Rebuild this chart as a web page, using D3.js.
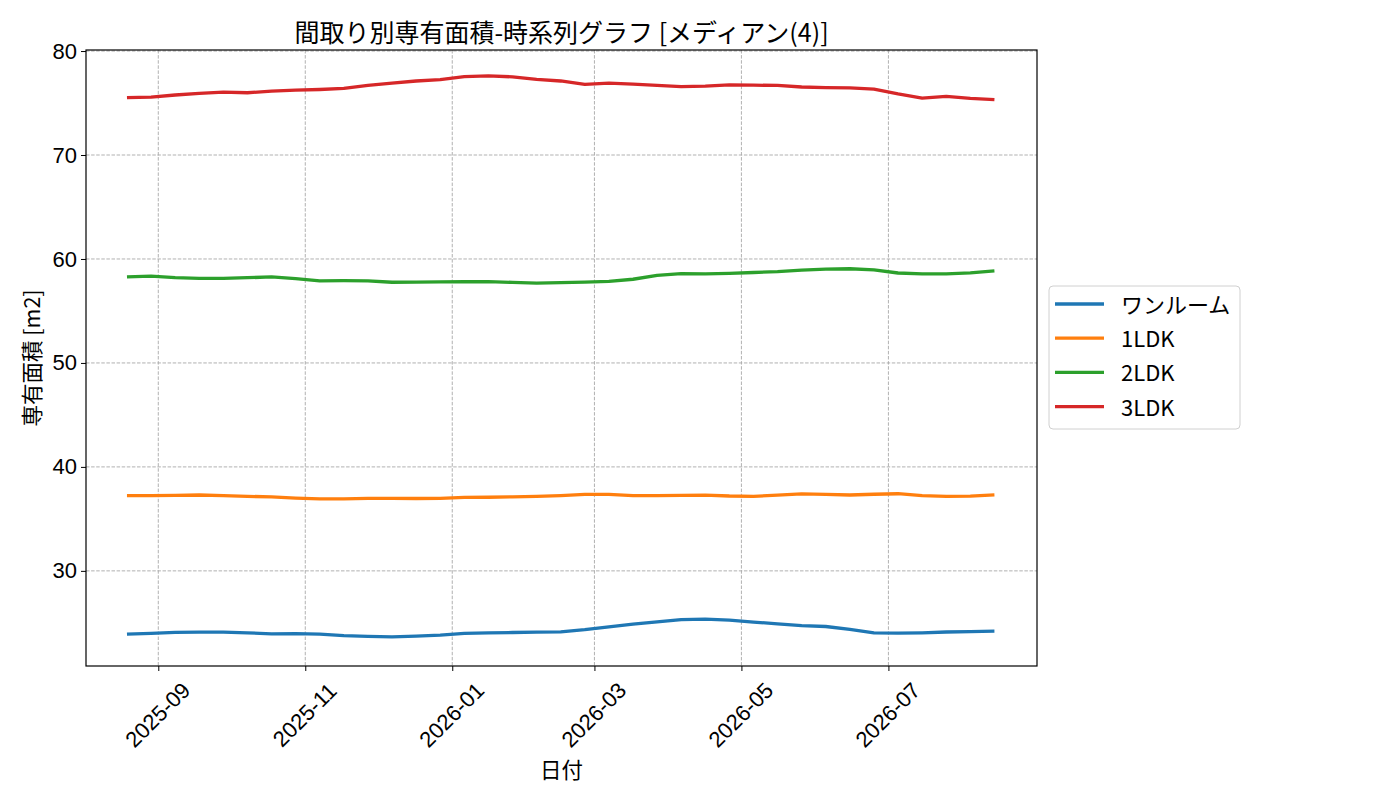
<!DOCTYPE html>
<html>
<head>
<meta charset="utf-8">
<title>間取り別専有面積-時系列グラフ</title>
<script src="https://cdn.jsdelivr.net/npm/d3@7/dist/d3.min.js"></script>
<style>
    body { margin: 0; background: #fff; }
    svg { font-family: "Noto Sans CJK JP", "Noto Sans", sans-serif; }
    .grid line { stroke: #a8a8a8; stroke-width: 0.9; stroke-dasharray: 3.5,1.6; }
    .axis text { font-size: 22px; fill: #000; }
    .axis path, .axis line { stroke: #000; }
</style>
</head>
<body>
<svg id="chart" width="1400" height="800"></svg>
<script>
// sample dates (every 10 days)
const dates = [
    "2025-08-19", "2025-08-29", "2025-09-08", "2025-09-18", "2025-09-28", "2025-10-08",
    "2025-10-18", "2025-10-28", "2025-11-07", "2025-11-17", "2025-11-27", "2025-12-07",
    "2025-12-17", "2025-12-27", "2026-01-06", "2026-01-16", "2026-01-26", "2026-02-05",
    "2026-02-15", "2026-02-25", "2026-03-07", "2026-03-17", "2026-03-27", "2026-04-06",
    "2026-04-16", "2026-04-26", "2026-05-06", "2026-05-16", "2026-05-26", "2026-06-05",
    "2026-06-15", "2026-06-25", "2026-07-05", "2026-07-15", "2026-07-25", "2026-08-04",
    "2026-08-14"
];

const seriesNames = ["ワンルーム", "1LDK", "2LDK", "3LDK"];

const oneRoom = [23.91, 23.99, 24.08, 24.11, 24.11, 24.04, 23.94, 23.96, 23.92, 23.77, 23.69, 23.65,
    23.72, 23.82, 23.99, 24.04, 24.07, 24.10, 24.14, 24.34, 24.62, 24.87, 25.09, 25.32,
    25.36, 25.27, 25.08, 24.90, 24.74, 24.65, 24.37, 24.04, 24.01, 24.04, 24.12, 24.16, 24.20];

const ldk1 = [37.24, 37.24, 37.27, 37.30, 37.24, 37.17, 37.11, 36.99, 36.92, 36.92, 36.98, 36.97,
    36.96, 36.97, 37.06, 37.08, 37.12, 37.17, 37.24, 37.36, 37.35, 37.24, 37.24, 37.27,
    37.29, 37.20, 37.17, 37.29, 37.41, 37.35, 37.30, 37.37, 37.42, 37.24, 37.17, 37.19, 37.31];

const ldk2 = [58.28, 58.35, 58.20, 58.13, 58.13, 58.20, 58.27, 58.10, 57.90, 57.91, 57.90, 57.76,
    57.77, 57.79, 57.81, 57.82, 57.75, 57.68, 57.73, 57.78, 57.85, 58.05, 58.42, 58.60,
    58.57, 58.62, 58.70, 58.78, 58.93, 59.03, 59.06, 58.95, 58.65, 58.57, 58.57, 58.67, 58.85];

const ldk3 = [75.51, 75.56, 75.77, 75.92, 76.04, 75.99, 76.14, 76.25, 76.30, 76.40, 76.69, 76.92,
    77.12, 77.25, 77.54, 77.61, 77.52, 77.28, 77.12, 76.80, 76.92, 76.82, 76.70, 76.57,
    76.62, 76.74, 76.72, 76.69, 76.54, 76.49, 76.46, 76.34, 75.87, 75.47, 75.64, 75.45, 75.32];

const yTicks = [30, 40, 50, 60, 70, 80];
const colors = ["#1f77b4", "#ff7f0e", "#2ca02c", "#d62728"];

const parse = d3.timeParse("%Y-%m-%d");
const allValues = [oneRoom, ldk1, ldk2, ldk3];
const series = seriesNames.map((name, i) => ({
    name: name,
    color: colors[i],
    values: allValues[i].map((v, j) => ({ date: parse(dates[j]), value: v }))
}));

const margin = { left: 86, top: 50, right: 363, bottom: 134 };
const width = 1400 - margin.left - margin.right;
const height = 800 - margin.top - margin.bottom;

const svg = d3.select("#chart");
const g = svg.append("g").attr("transform", `translate(${margin.left},${margin.top})`);

const x = d3.scaleTime()
    .domain([new Date(2025, 7, 2), new Date(2026, 7, 31, 16)])
    .range([0, width]);
const y = d3.scaleLinear()
    .domain([20.85, 80.1])
    .range([height, 0]);

const xTicks = x.ticks(d3.timeMonth.every(2));

// grid
const grid = g.append("g").attr("class", "grid");
grid.selectAll(".gx").data(xTicks).enter().append("line")
    .attr("x1", d => x(d)).attr("x2", d => x(d))
    .attr("y1", 0).attr("y2", height);
grid.selectAll(".gy").data(yTicks).enter().append("line")
    .attr("x1", 0).attr("x2", width)
    .attr("y1", d => y(d)).attr("y2", d => y(d));

// lines
const line = d3.line()
    .x(d => x(d.date))
    .y(d => y(d.value));

g.selectAll(".series").data(series).enter().append("path")
    .attr("fill", "none")
    .attr("stroke", d => d.color)
    .attr("stroke-width", 3.3)
    .attr("stroke-linejoin", "round")
    .attr("d", d => line(d.values));

// axes
const xAxis = g.append("g").attr("class", "axis")
    .attr("transform", `translate(0,${height})`)
    .call(d3.axisBottom(x).tickValues(xTicks).tickFormat(d3.timeFormat("%Y-%m")).tickSize(5).tickPadding(0));
xAxis.select(".domain").remove();
xAxis.selectAll("text")
    .attr("text-anchor", "middle")
    .attr("dominant-baseline", "central")
    .attr("dy", null)
    .attr("y", null)
    .attr("transform", "translate(-1,49) rotate(-45)");

const yAxis = g.append("g").attr("class", "axis")
    .call(d3.axisLeft(y).tickValues(yTicks).tickSize(5).tickPadding(4));
yAxis.select(".domain").remove();

// frame
g.append("rect")
    .attr("width", width).attr("height", height)
    .attr("fill", "none").attr("stroke", "#000").attr("stroke-width", 1.2);

// title and labels
svg.append("text")
    .attr("x", margin.left + width / 2).attr("y", 31)
    .attr("text-anchor", "middle").attr("dominant-baseline", "central")
    .style("font-size", "25px")
    .text("間取り別専有面積-時系列グラフ [メディアン(4)]");

svg.append("text")
    .attr("x", margin.left + width / 2).attr("y", 768)
    .attr("text-anchor", "middle").attr("dominant-baseline", "central")
    .style("font-size", "21.5px")
    .text("日付");

svg.append("text")
    .attr("transform", `translate(30,${margin.top + height / 2}) rotate(-90)`)
    .attr("text-anchor", "middle").attr("dominant-baseline", "central")
    .style("font-size", "21.5px")
    .text("専有面積 [m2]");

// legend
const legend = svg.append("g").attr("transform", "translate(1049,286)");
legend.append("rect")
    .attr("width", 191).attr("height", 143)
    .attr("rx", 4).attr("ry", 4)
    .attr("fill", "#fff").attr("stroke", "#d0d0d0").attr("stroke-width", 1);

const items = legend.selectAll(".item").data(series).enter().append("g")
    .attr("transform", (d, i) => `translate(0,${18 + i * 34.2})`);
items.append("line")
    .attr("x1", 6).attr("x2", 55)
    .attr("stroke", d => d.color).attr("stroke-width", 3.3);
items.append("text")
    .attr("x", 72).attr("y", -1).attr("dominant-baseline", "central")
    .style("font-size", "22px")
    .text(d => d.name);
</script>
</body>
</html>
